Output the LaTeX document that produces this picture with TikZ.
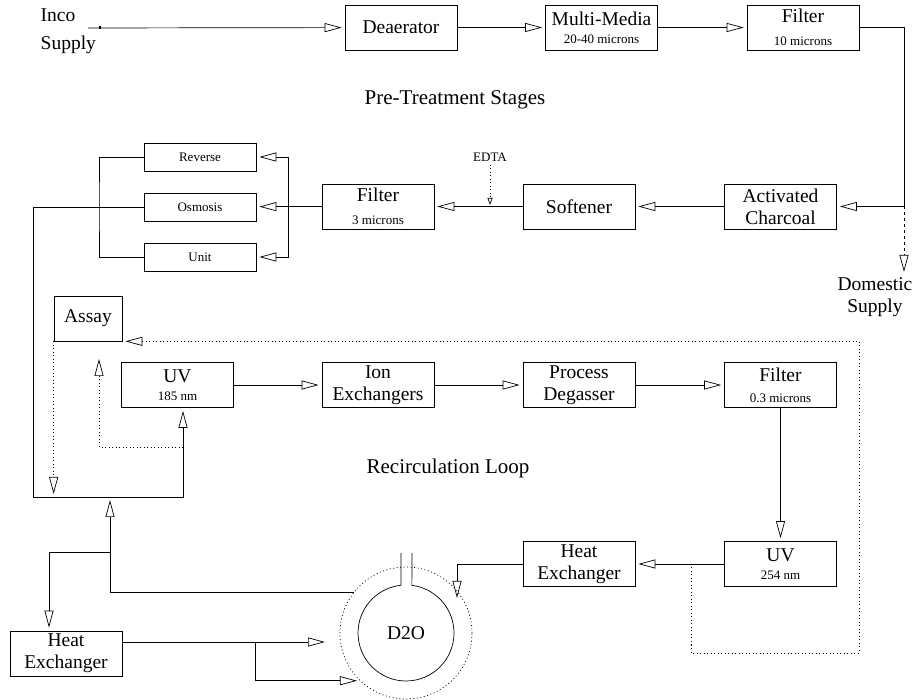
\documentclass[tikz,border=0pt]{standalone}
\usepackage{fontspec}
\setmainfont{Liberation Serif}
\usetikzlibrary{arrows.meta}

\newcommand\boxfont{\fontsize{19.5}{22}\selectfont}
\newcommand\subfont{\fontsize{13}{14}\selectfont}

\begin{document}
\begin{tikzpicture}[x=1pt,y=-1pt,line width=0.7pt,
		>={Triangle[open,length=17pt,width=9pt]},
		unit/.style={draw,minimum width=112pt,minimum height=45pt,inner sep=1pt,align=center,font=\boxfont},
		rounit/.style={draw,minimum width=112pt,minimum height=28pt,inner sep=1pt,font=\subfont},
		pipe/.style={->,shorten >=3pt},
		sample/.style={dash pattern=on 1pt off 2.5pt},
		caption/.style={font=\fontsize{21}{24}\selectfont}]

		\useasboundingbox (0,0) rectangle (914,700);

		% pre-treatment
		\node (Inco) at (37,31) [anchor=west,align=left,font=\boxfont] {Inco\\[6pt]Supply};
		\node (Deaerator) at (401,27.5) [unit] {Deaerator};
		\node (MultiMedia) at (601.5,27.5) [unit] {Multi-Media\\[-4pt]{\subfont 20-40 microns}};
		\node (FilterTen) at (803,27.5) [unit] {Filter\\[1pt]{\subfont 10 microns}};
		\node (PreTxt) at (455,100) [caption] {Pre-Treatment Stages};

		\node (Charcoal) at (780.5,206.5) [unit] {Activated\\Charcoal};
		\node (Softener) at (579,206.5) [unit] {Softener};
		\node (FilterThree) at (378,206.5) [unit] {Filter\\[1pt]{\subfont 3 microns}};
		\node (EDTA) at (490,157) [font=\subfont] {EDTA};
		\node (Reverse) at (200,157) [rounit] {Reverse};
		\node (Osmosis) at (200,207) [rounit] {Osmosis};
		\node (Unit) at (200,257) [rounit] {Unit};
		\node (DomesticTxt) at (875,297) [align=center,font=\boxfont] {Domestic\\Supply};

		% recirculation loop
		\node (Assay) at (88,318.5) [unit,minimum width=68pt] {Assay};
		\node (UVone) at (177.5,385) [unit] {UV\\[-4pt]{\subfont 185 nm}};
		\node (IonEx) at (378,385) [unit] {Ion\\Exchangers};
		\node (Degasser) at (579,385) [unit] {Process\\Degasser};
		\node (FilterFine) at (780.5,385) [unit] {Filter\\[-1pt]{\subfont 0.3 microns}};
		\node (UVtwo) at (780.5,564) [unit] {UV\\[-4pt]{\subfont 254 nm}};
		\node (HeatExR) at (579,564) [unit] {Heat\\Exchanger};
		\node (HeatExL) at (66,653.5) [unit] {Heat\\Exchanger};
		\node (LoopTxt) at (448,468) [caption] {Recirculation Loop};

		\node (Vessel) at (406,633) [circle,minimum size=96pt,inner sep=0pt,font=\boxfont] {D2O};
		\node (Jacket) at (406,633) [circle,draw,sample,minimum size=132pt] {};
		\draw (401,553) -- (401,585.26) arc[start angle=264,end angle=-83,radius=48] -- (412,553);

		\coordinate (IncoIn) at (88,28);
		\coordinate (Split) at (904,206.5);
		\coordinate (Domestic) at (904,275);
		\coordinate (EDTAin) at (490,208);
		\coordinate (ROin) at (288,206.5);
		\coordinate (ROout) at (99,206.5);
		\coordinate (LoopCorner) at (33,497);
		\coordinate (UVtap) at (183,447);
		\coordinate (AssayRet) at (99,356);
		\coordinate (HXtee) at (110,552);
		\coordinate (ReturnUp) at (110,497);
		\coordinate (Branch) at (255,642);
		\coordinate (VesselIn) at (328,642);
		\coordinate (VesselTop) at (457,601);
		\coordinate (SampleTap) at (691,564);
		\coordinate (LoopSE) at (859,653);

		\draw[pipe] (IncoIn) -- (Deaerator);
		\fill (98.5,26.5) rectangle (101,29.5);
		\draw[pipe] (Deaerator) -- (MultiMedia);
		\draw[pipe] (MultiMedia) -- (FilterTen);
		\draw (FilterTen) -| (Split);
		\draw[pipe] (Split) -- (Charcoal);
		\draw[pipe,dashed] (Split) -- (Domestic);
		\draw[pipe] (Charcoal) -- (Softener);
		\draw[pipe] (Softener) -- (FilterThree);
		\draw[sample,-{Triangle[open,length=7pt,width=5pt]},shorten >=3pt] (EDTA) -- (EDTAin);

		\draw (FilterThree) -- (ROin);
		\draw[pipe] (ROin) |- (Reverse);
		\draw[pipe] (ROin) -- (Osmosis);
		\draw[pipe] (ROin) |- (Unit);
		\draw (Reverse) -| (ROout) |- (Unit);
		\draw[pipe] (Osmosis) -| (LoopCorner) -| ([xshift=5.5pt]UVone.south);

		\draw[pipe] (UVone) -- (IonEx);
		\draw[pipe] (IonEx) -- (Degasser);
		\draw[pipe] (Degasser) -- (FilterFine);
		\draw[pipe] (FilterFine) -- (UVtwo);
		\draw[pipe] (UVtwo) -- (HeatExR);
		\draw[pipe] (HeatExR) -| (VesselTop);

		\draw[pipe] (Jacket.142) -| (ReturnUp);
		\draw[pipe] (HXtee) -| ([xshift=-17pt]HeatExL.north);
		\draw[pipe] ([yshift=11.5pt]HeatExL.east) -- (VesselIn);
		\draw[pipe] (Branch) |- (Jacket.226);

		% sampling lines
		\draw[sample,pipe] (UVtap) -| (AssayRet);
		\draw[sample,pipe] (Assay.south west) -- (Assay.south west |- LoopCorner);
		\draw[sample,pipe] (SampleTap) |- (LoopSE) |- (Assay.south east);
	\end{tikzpicture}
\end{document}
